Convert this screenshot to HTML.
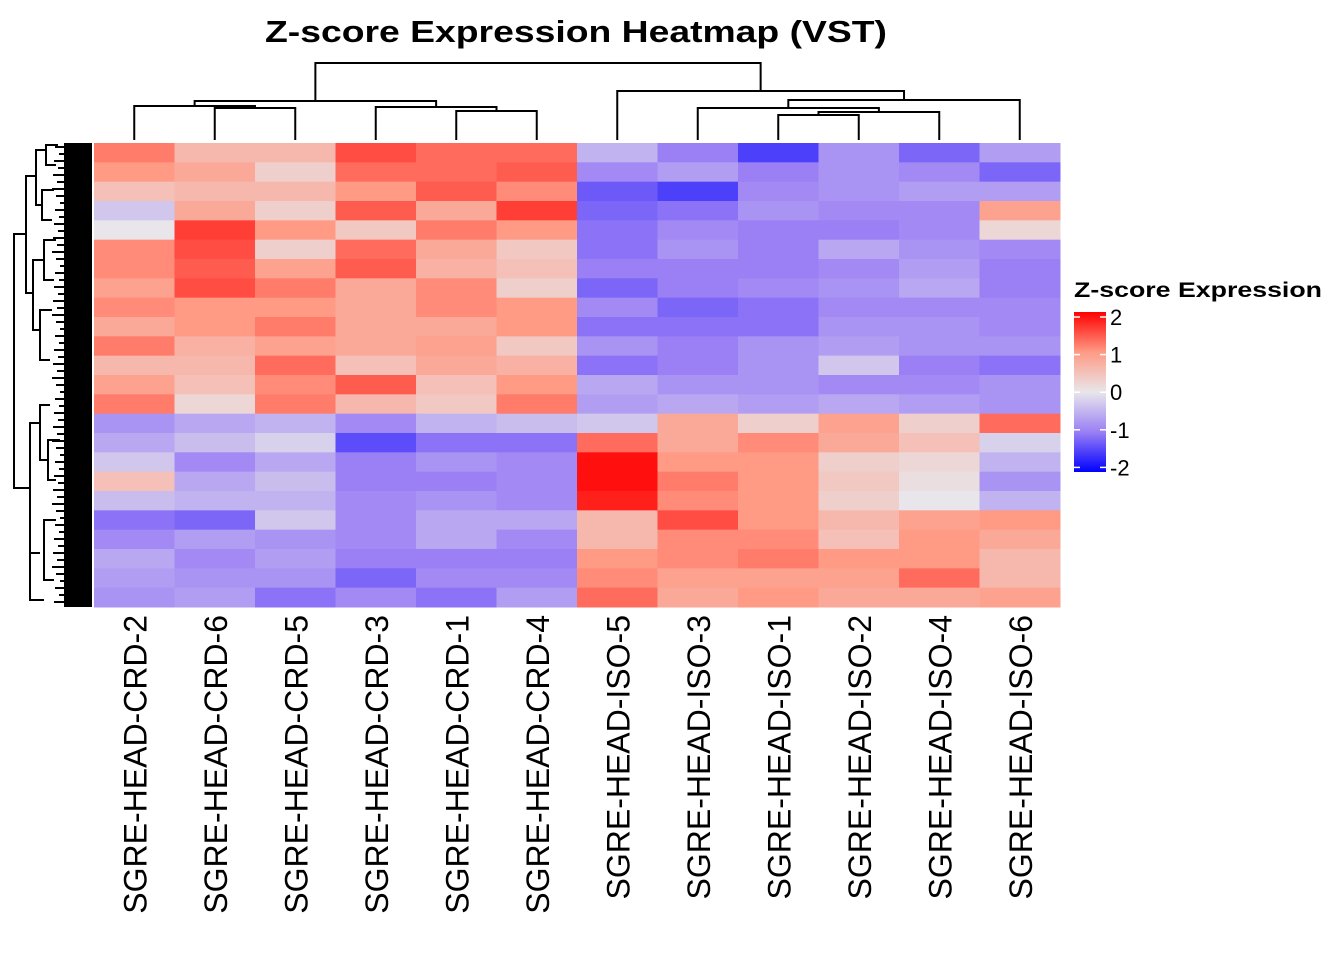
<!DOCTYPE html>
<html><head><meta charset="utf-8"><style>
body{margin:0;background:#fff;}
svg{display:block;font-family:"Liberation Sans",Arial,sans-serif;}
</style></head><body>
<svg id="chart" width="1344" height="960" viewBox="0 0 1344 960" xmlns="http://www.w3.org/2000/svg">
<rect width="1344" height="960" fill="#fff"/>
<text x="576" y="42" text-anchor="middle" font-size="31" font-weight="bold" textLength="622" lengthAdjust="spacingAndGlyphs">Z-score Expression Heatmap (VST)</text>
<g id="cells"></g>
<g id="labels"></g>
<g id="coldendro" stroke="#000" stroke-width="2" fill="none"></g>
<g id="rowdendro" stroke="#000" stroke-width="2" fill="none"></g>
<g id="legend">
<text x="1074" y="297" font-size="21" font-weight="bold" textLength="248" lengthAdjust="spacingAndGlyphs">Z-score Expression</text>
<defs><linearGradient id="lg" x1="0" y1="1" x2="0" y2="0">
<stop offset="0" stop-color="#0000ff"/><stop offset="0.25" stop-color="#9a7ff5"/><stop offset="0.5" stop-color="#e8e6ea"/><stop offset="0.75" stop-color="#ff9a85"/><stop offset="1" stop-color="#ff0000"/>
</linearGradient></defs>
<rect x="1074" y="312" width="32" height="160" fill="url(#lg)"/>
<g id="legticks"></g>
</g>
</svg>
<script>
const samples=["SGRE-HEAD-CRD-2","SGRE-HEAD-CRD-6","SGRE-HEAD-CRD-5","SGRE-HEAD-CRD-3","SGRE-HEAD-CRD-1","SGRE-HEAD-CRD-4","SGRE-HEAD-ISO-5","SGRE-HEAD-ISO-3","SGRE-HEAD-ISO-1","SGRE-HEAD-ISO-2","SGRE-HEAD-ISO-4","SGRE-HEAD-ISO-6"];
const legendTicks=[2,1,0,-1,-2];
const band0=[1.2,0.6,0.6,1.5,1.3,1.3,-0.5,-1.0,-1.5,-0.8,-1.2,-0.7];
const band1=[1.0,0.8,0.3,1.3,1.3,1.4,-0.9,-0.7,-1.0,-0.8,-0.9,-1.2];
const band2=[0.5,0.6,0.6,1.0,1.4,1.1,-1.3,-1.5,-0.9,-0.8,-0.7,-0.7];
const band3=[-0.3,0.8,0.3,1.4,0.8,1.6,-1.2,-1.1,-0.8,-0.9,-0.9,0.9];
const band4=[0.0,1.6,1.0,0.4,1.2,1.0,-1.1,-0.9,-1.0,-1.0,-0.9,0.2];
const band5=[1.1,1.5,0.3,1.3,0.8,0.4,-1.1,-0.8,-1.0,-0.6,-0.8,-0.9];
const band6=[1.1,1.4,0.9,1.4,0.7,0.5,-1.0,-1.0,-1.0,-0.9,-0.7,-1.0];
const band7=[0.9,1.5,1.2,0.8,1.1,0.3,-1.2,-1.0,-0.9,-0.8,-0.6,-1.0];
const band8=[1.1,1.0,1.0,0.8,1.1,1.0,-0.9,-1.2,-1.1,-0.9,-0.9,-0.9];
const band9=[0.8,1.0,1.2,0.8,0.8,1.0,-1.1,-1.1,-1.1,-0.8,-0.8,-0.9];
const band10=[1.2,0.7,0.9,0.8,0.9,0.4,-0.8,-1.0,-0.8,-0.7,-0.8,-0.8];
const band11=[0.6,0.6,1.3,0.5,0.8,0.7,-1.1,-1.0,-0.8,-0.3,-1.0,-1.1];
const band12=[0.9,0.5,1.1,1.4,0.5,1.0,-0.6,-0.8,-0.8,-0.9,-0.9,-0.8];
const band13=[1.2,0.2,1.2,0.6,0.4,1.2,-0.7,-0.6,-0.7,-0.6,-0.7,-0.8];
const band14=[-0.8,-0.6,-0.5,-0.9,-0.5,-0.4,-0.3,0.8,0.3,0.9,0.3,1.3];
const band15=[-0.6,-0.4,-0.2,-1.4,-1.1,-1.1,1.3,0.8,1.1,0.8,0.5,-0.2];
const band16=[-0.3,-0.9,-0.6,-1.0,-0.8,-0.9,1.9,1.0,1.0,0.3,0.2,-0.5];
const band17=[0.5,-0.6,-0.4,-1.0,-1.0,-0.9,1.9,1.2,1.0,0.4,0.1,-0.8];
const band18=[-0.4,-0.5,-0.5,-0.9,-0.8,-0.9,1.8,1.1,1.0,0.3,0.0,-0.5];
const band19=[-1.1,-1.2,-0.3,-0.9,-0.6,-0.6,0.6,1.5,1.0,0.6,0.9,1.0];
const band20=[-0.9,-0.7,-0.8,-0.9,-0.6,-0.9,0.6,1.1,1.1,0.5,1.0,0.8];
const band21=[-0.6,-0.9,-0.7,-1.0,-1.0,-1.0,1.0,1.1,1.2,1.0,1.0,0.6];
const band22=[-0.7,-0.8,-0.8,-1.2,-0.9,-0.9,1.1,0.9,0.9,0.9,1.3,0.6];
const band23=[-0.8,-0.7,-1.1,-0.9,-1.1,-0.7,1.3,0.8,1.0,0.8,0.8,0.9];
const rows=[band0,band1,band2,band3,band4,band5,band6,band7,band8,band9,band10,band11,band12,band13,band14,band15,band16,band17,band18,band19,band20,band21,band22,band23];

const NS="http://www.w3.org/2000/svg";
const X0=94,X1=1060,Y0=143,Y1=607;
const colW=(X1-X0)/samples.length;
const rowH=(Y1-Y0)/rows.length;
const xPos=i=>X0+i*colW;
const yPos=j=>Y0+j*rowH;
const stops=[[-2,[0,0,255]],[-1,[154,127,245]],[0,[232,230,234]],[1,[255,154,133]],[2,[255,0,0]]];
function color(v){
  v=Math.max(-2,Math.min(2,v));
  for(let k=0;k<stops.length-1;k++){
    const [a,ca]=stops[k],[b,cb]=stops[k+1];
    if(v<=b){const t=(v-a)/(b-a);return `rgb(${ca.map((c,i)=>Math.round(c+(cb[i]-c)*t)).join(',')})`;}
  }
  return 'rgb(255,0,0)';
}
const cells=document.getElementById('cells');
rows.forEach((r,j)=>r.forEach((v,i)=>{
  const el=document.createElementNS(NS,'rect');
  
  
  el.setAttribute('x',xPos(i));el.setAttribute('y',yPos(j));
  el.setAttribute('width',colW+0.5);el.setAttribute('height',rowH+0.5);
  el.setAttribute('fill',color(v));
  cells.appendChild(el);
}));
const labels=document.getElementById('labels');
samples.forEach((s,i)=>{
  const t=document.createElementNS(NS,'text');
  
  
  const cx=xPos(i)+colW/2+12;
  t.setAttribute('transform',`translate(${cx},615) rotate(-90)`);
  t.setAttribute('text-anchor','end');
  t.setAttribute('font-size','32');
  t.textContent=s;
  labels.appendChild(t);
});
const cd=document.getElementById('coldendro');
function pl(g,pts,name){
  const p=document.createElementNS(NS,'polyline');
  
  
  p.setAttribute('points',pts.map(q=>q.join(',')).join(' '));
  g.appendChild(p);
}
const cx=i=>xPos(i)+colW/2;
function link(g,xa,ya,xb,yb,h){pl(g,[[xa,ya],[xa,h],[xb,h],[xb,yb]],'dendrogram-link');}
const B=140;
link(cd,cx(1),B,cx(2),B,108);
const m12=(cx(1)+cx(2))/2;
link(cd,cx(0),B,m12,108,106);
link(cd,cx(4),B,cx(5),B,111);
const m45=(cx(4)+cx(5))/2;
link(cd,cx(3),B,m45,111,107);
const mA=(cx(0)+m12)/2,mB=(cx(3)+m45)/2;
link(cd,mA,106,mB,107,101);
link(cd,cx(8),B,cx(9),B,115);
const m89=(cx(8)+cx(9))/2;
link(cd,m89,115,cx(10),B,112);
const m810=(m89+cx(10))/2;
link(cd,cx(7),B,m810,112,108);
const m7=(cx(7)+m810)/2;
link(cd,m7,108,cx(11),B,100);
const mR1=(m7+cx(11))/2;
link(cd,cx(6),B,mR1,100,91);
const mR=(cx(6)+mR1)/2;
link(cd,(mA+mB)/2,101,mR,91,63);
const rd=document.getElementById('rowdendro');
const link2=(x,ya,yb,xa,xb)=>pl(rd,[[xa,ya],[x,ya],[x,yb],[xb,yb]],'row-dendrogram-link');
link2(14,234,488,26,30);
link2(26,176,293,36,33);
link2(30,423,553,40,30);
link2(36,150,205,46,42);
link2(33,260,330,44,40);
link2(40,405,460,50,48);
link2(30,553,600,40,44);
link2(46,145,165,58,56);
link2(42,190,220,54,52);
link2(44,240,280,56,54);
link2(40,310,360,52,50);
link2(48,440,480,60,56);
link2(44,520,580,56,54);
const dense=document.createElementNS(NS,'rect');


dense.setAttribute('x',64);dense.setAttribute('y',Y0);dense.setAttribute('width',28);dense.setAttribute('height',Y1-Y0);
dense.setAttribute('fill','#000');dense.setAttribute('stroke','none');
rd.appendChild(dense);
for(let y=Y0+4;y<Y1;y+=7){
  const p=document.createElementNS(NS,'line');
  
  
  p.setAttribute('x1',52+((y*7)%9));p.setAttribute('x2',64);p.setAttribute('y1',y);p.setAttribute('y2',y);
  rd.appendChild(p);
}
const lt=document.getElementById('legticks');
legendTicks.forEach(v=>{
  const y=312+(2-v)/4*160*0.94+5;
  const d1=document.createElementNS(NS,'line');
  
  
  d1.setAttribute('x1',1074);d1.setAttribute('x2',1080);d1.setAttribute('y1',y);d1.setAttribute('y2',y);
  d1.setAttribute('stroke','#fff');d1.setAttribute('stroke-width','1.5');lt.appendChild(d1);
  const d2=document.createElementNS(NS,'line');
  
  
  d2.setAttribute('x1',1100);d2.setAttribute('x2',1106);d2.setAttribute('y1',y);d2.setAttribute('y2',y);
  d2.setAttribute('stroke','#fff');d2.setAttribute('stroke-width','1.5');lt.appendChild(d2);
  const t=document.createElementNS(NS,'text');
  
  
  t.setAttribute('x',1110);t.setAttribute('y',y+8);t.setAttribute('font-size','22');
  t.textContent=v;lt.appendChild(t);
});
</script>
</body></html>
